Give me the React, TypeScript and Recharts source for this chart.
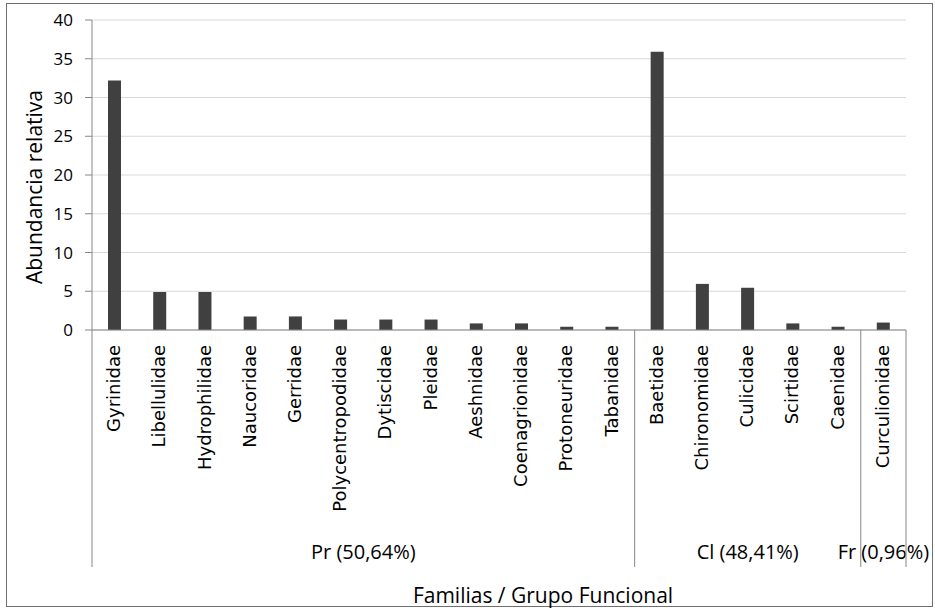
import { BarChart, Bar, XAxis, YAxis, CartesianGrid, Label } from "recharts";

const families = [
  "Gyrinidae",
  "Libellulidae",
  "Hydrophilidae",
  "Naucoridae",
  "Gerridae",
  "Polycentropodidae",
  "Dytiscidae",
  "Pleidae",
  "Aeshnidae",
  "Coenagrionidae",
  "Protoneuridae",
  "Tabanidae",
  "Baetidae",
  "Chironomidae",
  "Culicidae",
  "Scirtidae",
  "Caenidae",
  "Curculionidae",
];

const abundance = [
  32.2, 4.9, 4.9, 1.75, 1.75, 1.35, 1.35, 1.35, 0.85, 0.85, 0.42, 0.42, 35.9,
  5.95, 5.45, 0.85, 0.42, 0.96,
];

// functional groups, in order, with how many families each one spans
const groupNames = ["Pr (50,64%)", "Cl (48,41%)", "Fr (0,96%)"];
const groupSizes = [12, 5, 1];

const yTicks = [0, 5, 10, 15, 20, 25, 30, 35, 40];

const data = families.map((family, i) => ({ family, value: abundance[i] }));

const W = 935;
const H = 610;
const PLOT_LEFT = 92;
const PLOT_RIGHT = 29;
const PLOT_W = W - PLOT_LEFT - PLOT_RIGHT;
const AXIS_COLOR = "#868686";
const FONT = "'Open Sans', sans-serif";

// group start indexes: 0, 12, 17
const groupStarts = groupSizes.map((_, g) =>
  groupSizes.slice(0, g).reduce((a, b) => a + b, 0)
);

function FamilyTick(props: any) {
  const { x, y, payload, index } = props;
  const band = PLOT_W / families.length;
  const g = groupStarts.indexOf(index);
  const last = index === families.length - 1;
  return (
    <g>
      <text
        transform={`translate(${x - 1},${y + 15}) rotate(-90)`}
        textAnchor="end"
        dominantBaseline="central"
        fontFamily="'DejaVu Sans', sans-serif"
        fontSize={18}
        fill="#000"
      >
        {payload.value}
      </text>
      {g >= 0 && (
        <>
          <line
            x1={x - band / 2}
            x2={x - band / 2}
            y1={y}
            y2={y + 237}
            stroke={AXIS_COLOR}
          />
          <text
            x={x - band / 2 + (groupSizes[g] * band) / 2}
            y={y + 229}
            textAnchor="middle"
            fontFamily={FONT}
            fontSize={20}
            fill="#000"
          >
            {groupNames[g]}
          </text>
        </>
      )}
      {last && (
        <line
          x1={x + band / 2}
          x2={x + band / 2}
          y1={y}
          y2={y + 237}
          stroke={AXIS_COLOR}
        />
      )}
    </g>
  );
}

export default function App() {
  return (
    <div style={{ position: "relative", width: W, height: H }}>
      <style>{`body{margin:0}`}</style>
      <div
        style={{
          position: "absolute",
          left: 6,
          top: 3,
          width: 927,
          height: 604,
          border: "1px solid #6f6f6f",
          boxSizing: "border-box",
        }}
      />
      <BarChart
        width={W}
        height={H}
        data={data}
        margin={{ top: 20, right: PLOT_RIGHT, left: 0, bottom: 0 }}
        style={{ position: "absolute", left: 0, top: 0 }}
      >
        <CartesianGrid vertical={false} stroke="#d9d9d9" />
        <XAxis
          dataKey="family"
          interval={0}
          tickLine={false}
          tickSize={0}
          tickMargin={0}
          axisLine={{ stroke: AXIS_COLOR }}
          height={280}
          tick={<FamilyTick />}
        >
          <Label
            content={(p: any) => {
              const vb = p.viewBox;
              return (
                <text
                  x={vb.x + 451}
                  y={vb.y + 273}
                  textAnchor="middle"
                  fontFamily={FONT}
                  fontSize={21}
                  fill="#000"
                >
                  Familias / Grupo Funcional
                </text>
              );
            }}
          />
        </XAxis>
        <YAxis
          domain={[0, 40]}
          ticks={yTicks}
          width={PLOT_LEFT}
          tickSize={7}
          tickMargin={12}
          axisLine={{ stroke: AXIS_COLOR }}
          tickLine={{ stroke: AXIS_COLOR }}
          tick={{ fill: "#000", fontSize: 17, fontFamily: FONT }}
        >
          <Label
            content={(p: any) => {
              const vb = p.viewBox;
              const cx = vb.x + 34;
              const cy = vb.y + vb.height / 2 + 12;
              return (
                <text
                  transform={`translate(${cx},${cy}) rotate(-90)`}
                  textAnchor="middle"
                  dominantBaseline="central"
                  fontFamily={FONT}
                  fontSize={21}
                  fill="#000"
                >
                  Abundancia relativa
                </text>
              );
            }}
          />
        </YAxis>
        <Bar
          dataKey="value"
          fill="#404040"
          barSize={13}
          isAnimationActive={false}
        />
      </BarChart>
    </div>
  );
}
